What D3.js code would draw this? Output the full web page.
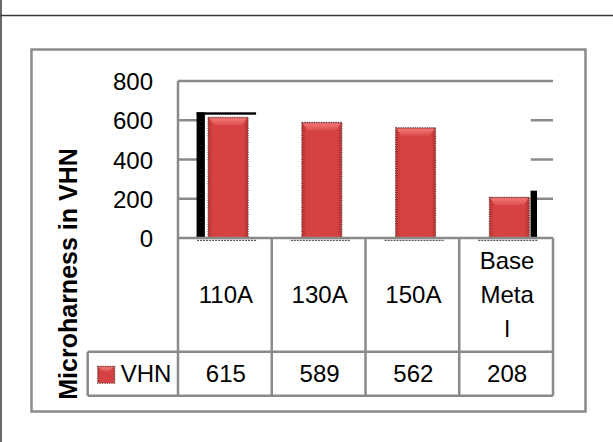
<!DOCTYPE html>
<html>
<head>
<meta charset="utf-8">
<script src="https://cdn.jsdelivr.net/npm/d3@7/dist/d3.min.js"></script>
<style>
  html, body { margin: 0; padding: 0; background: #fff; }
  svg { display: block; }
  text { font-family: "Liberation Sans", Arial, sans-serif; fill: #000; }
</style>
</head>
<body>
<script>
// Microhardness readings per welding current, plus base metal
const categories = ["110A", "130A", "150A", "Base Metal"];
const categoryLines = [["110A"], ["130A"], ["150A"], ["Base", "Meta", "l"]];
const values = [615, 589, 562, 208];
const seriesName = "VHN";
const yTicks = [0, 200, 400, 600, 800];
const yTitle = "Microharness in VHN";

const W = 613, H = 442;
const plot = { left: 178, right: 553, top: 81, bottom: 238 };
const table = { row1Bottom: 351.7, row2Bottom: 395.7, legendLeft: 87.7 };
const gridColor = "#8a8a8a";
const fontSize = 24;

const svg = d3.select("body").append("svg")
  .attr("width", W).attr("height", H);

// gradients for the bevelled red bars
const defs = svg.append("defs");
const g1 = defs.append("linearGradient").attr("id", "barBody")
  .attr("x1", 0).attr("x2", 1).attr("y1", 0).attr("y2", 0);
g1.append("stop").attr("offset", "0%").attr("stop-color", "#b83232");
g1.append("stop").attr("offset", "12%").attr("stop-color", "#d64242");
g1.append("stop").attr("offset", "88%").attr("stop-color", "#d64242");
g1.append("stop").attr("offset", "100%").attr("stop-color", "#b83232");
const g2 = defs.append("linearGradient").attr("id", "barCap")
  .attr("x1", 0).attr("x2", 0).attr("y1", 0).attr("y2", 1);
g2.append("stop").attr("offset", "0%").attr("stop-color", "#f07a78");
g2.append("stop").attr("offset", "100%").attr("stop-color", "#dc4c4b");

// page frame lines
svg.append("line").attr("x1", 0).attr("x2", W).attr("y1", 15.5).attr("y2", 15.5)
  .attr("stroke", "#3a3a3a").attr("stroke-width", 1.6);
svg.append("line").attr("x1", 1).attr("x2", 1).attr("y1", 0).attr("y2", H)
  .attr("stroke", "#444").attr("stroke-width", 1.6);

// chart area border
svg.append("rect").attr("x", 31.5).attr("y", 49.5).attr("width", 554).attr("height", 362)
  .attr("fill", "#fff").attr("stroke", gridColor).attr("stroke-width", 2.5);

const x = d3.scaleBand().domain(categories).range([plot.left, plot.right]).padding(0);
const y = d3.scaleLinear().domain([0, 800]).range([plot.bottom, plot.top]);

const barW = 40, barShift = 3.2;
const barX = c => x(c) + (x.bandwidth() - barW) / 2 + barShift;

// gridlines: only visible in the side margins of the plot
const leftStubEnd = barX(categories[0]) - 11;
const rightStubStart = barX(categories[categories.length - 1]) + barW + 1.5;
yTicks.filter(t => t > 0 && t < 800).forEach(t => {
  svg.append("line").attr("x1", plot.left).attr("x2", leftStubEnd)
    .attr("y1", y(t)).attr("y2", y(t)).attr("stroke", gridColor).attr("stroke-width", 2.5);
  svg.append("line").attr("x1", rightStubStart).attr("x2", plot.right)
    .attr("y1", y(t)).attr("y2", y(t)).attr("stroke", gridColor).attr("stroke-width", 2.5);
});
svg.append("line").attr("x1", plot.left).attr("x2", plot.right)
  .attr("y1", y(800)).attr("y2", y(800)).attr("stroke", gridColor).attr("stroke-width", 2.5);

// y axis labels
const yAxis = d3.axisLeft(y).tickValues(yTicks).tickSize(0).tickPadding(25);
const ya = svg.append("g").attr("transform", `translate(${plot.left},0)`).call(yAxis);
ya.select(".domain").remove();
ya.selectAll("text").attr("font-size", fontSize).attr("font-family", "Liberation Sans, Arial, sans-serif")
  .attr("fill", "#000").attr("dy", "0.36em");

// dark shadow edges beside the first and last bars
const first = categories[0], last = categories[categories.length - 1];
svg.append("rect").attr("x", barX(first) - 11.5).attr("y", y(values[0]) - 5)
  .attr("width", 8.3).attr("height", y(0) - y(values[0]) + 5).attr("fill", "#000");
svg.append("rect").attr("x", barX(first) - 11.5).attr("y", y(values[0]) - 5)
  .attr("width", 59.5).attr("height", 2.4).attr("fill", "#000");
svg.append("rect").attr("x", barX(last) + barW + 1.2).attr("y", y(values[3]) - 6.5)
  .attr("width", 6.5).attr("height", y(0) - y(values[3]) + 6.5).attr("fill", "#000");

// base shadows under each bar
svg.selectAll(".base").data(categories).join("line")
  .attr("x1", c => barX(c) - 11).attr("x2", c => barX(c) + barW + 8)
  .attr("y1", plot.bottom + 2.3).attr("y2", plot.bottom + 2.3)
  .attr("stroke", "#555").attr("stroke-width", 1.2).attr("stroke-dasharray", "2,1");

// bars
function drawBar(g, x0, y0, w, h) {
  g.append("rect").attr("x", x0).attr("y", y0).attr("width", w).attr("height", h)
    .attr("fill", "url(#barBody)").attr("stroke", "#5a4040").attr("stroke-width", 1.1)
    .attr("stroke-dasharray", "1.2,1.2");
  const cap = Math.min(8, h / 3);
  g.append("path")
    .attr("d", `M${x0 + 1},${y0 + 1} L${x0 + w - 1},${y0 + 1} L${x0 + w - 6},${y0 + cap} L${x0 + 6},${y0 + cap} Z`)
    .attr("fill", "url(#barCap)");
}
const barsG = svg.append("g");
categories.forEach((c, i) => {
  drawBar(barsG, barX(c), y(values[i]), barW, y(0) - y(values[i]));
});

// axis line and data table grid
const tableG = svg.append("g").attr("stroke", gridColor).attr("stroke-width", 2.5).attr("fill", "none");
tableG.append("line").attr("x1", plot.left).attr("x2", plot.right).attr("y1", plot.bottom).attr("y2", plot.bottom);
tableG.append("line").attr("x1", plot.left).attr("x2", plot.left).attr("y1", plot.top).attr("y2", table.row2Bottom);
categories.forEach(c => {
  tableG.append("line").attr("x1", x(c) + x.bandwidth()).attr("x2", x(c) + x.bandwidth())
    .attr("y1", plot.bottom).attr("y2", table.row2Bottom);
});
tableG.append("line").attr("x1", table.legendLeft).attr("x2", plot.right)
  .attr("y1", table.row1Bottom).attr("y2", table.row1Bottom);
tableG.append("line").attr("x1", table.legendLeft).attr("x2", plot.right)
  .attr("y1", table.row2Bottom).attr("y2", table.row2Bottom);
tableG.append("line").attr("x1", table.legendLeft).attr("x2", table.legendLeft)
  .attr("y1", table.row1Bottom).attr("y2", table.row2Bottom);

// category labels (row 1)
const row1Mid = (plot.bottom + table.row1Bottom) / 2;
const lineH = 34;
categories.forEach((c, i) => {
  const lines = categoryLines[i];
  const t = svg.append("text").attr("text-anchor", "middle").attr("font-size", fontSize);
  lines.forEach((ln, k) => {
    t.append("tspan").attr("x", x(c) + x.bandwidth() / 2 + 1)
      .attr("y", row1Mid + (k - (lines.length - 1) / 2) * lineH + 0.36 * fontSize)
      .text(ln);
  });
});

// values (row 2)
const row2Mid = (table.row1Bottom + table.row2Bottom) / 2;
categories.forEach((c, i) => {
  svg.append("text").attr("text-anchor", "middle").attr("font-size", fontSize)
    .attr("x", x(c) + x.bandwidth() / 2 + 1).attr("y", row2Mid + 0.36 * fontSize)
    .text(values[i]);
});

// legend key in the table
const legG = svg.append("g");
drawBar(legG, table.legendLeft + 10, row2Mid - 7.5, 17, 17);
svg.append("text").attr("font-size", fontSize).attr("x", table.legendLeft + 33)
  .attr("y", row2Mid + 0.36 * fontSize).text(seriesName);

// y axis title
svg.append("text").attr("font-size", 25).attr("font-weight", "bold")
  .attr("text-anchor", "middle")
  .attr("transform", "translate(77,274) rotate(-90)")
  .text(yTitle);
</script>
</body>
</html>
